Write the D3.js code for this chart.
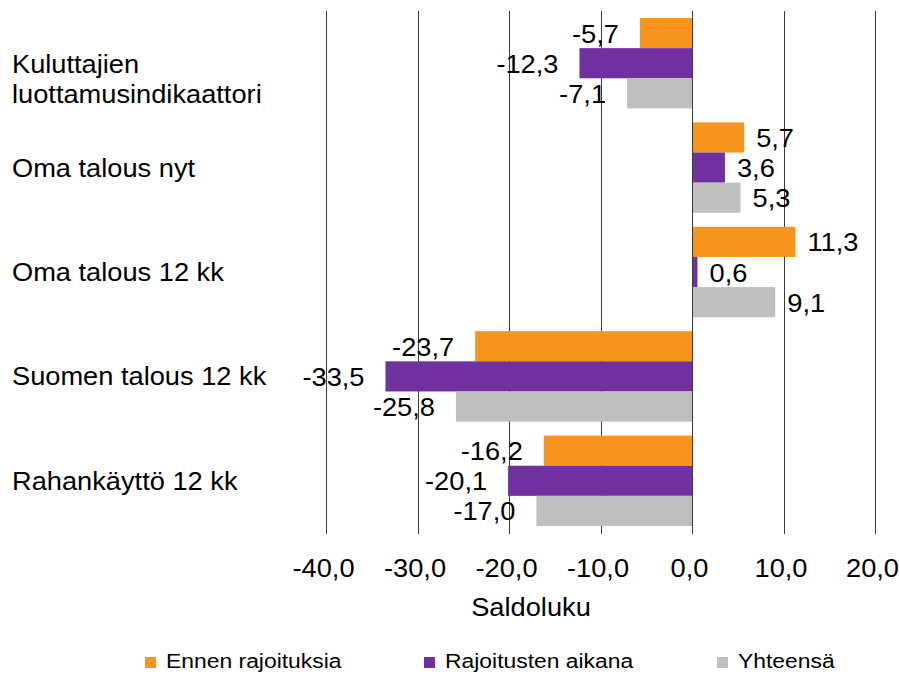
<!DOCTYPE html>
<html>
<head>
<meta charset="utf-8">
<script src="https://cdn.jsdelivr.net/npm/d3@7"></script>
<style>
  html, body { margin: 0; padding: 0; background: #fff; }
  svg { display: block; }
  text { font-family: "Liberation Sans", Arial, sans-serif; fill: #000; }
</style>
</head>
<body>
<svg id="chart" width="900" height="675"></svg>
<script>
// ---- data ----
const categories = [
  ["Kuluttajien", "luottamusindikaattori"],
  ["Oma talous nyt"],
  ["Oma talous 12 kk"],
  ["Suomen talous 12 kk"],
  ["Rahankäyttö 12 kk"]
];
const seriesNames = ["Ennen rajoituksia", "Rajoitusten aikana", "Yhteensä"];
const ennenRajoituksia   = [-5.7, 5.7, 11.3, -23.7, -16.2];
const rajoitustenAikana  = [-12.3, 3.6, 0.6, -33.5, -20.1];
const yhteensa           = [-7.1, 5.3, 9.1, -25.8, -17.0];
const seriesColors = ["#F7941D", "#7030A0", "#BFBFBF"];
const xTicks = [-40, -30, -20, -10, 0, 10, 20];
const xTitle = "Saldoluku";

const seriesValues = [ennenRajoituksia, rajoitustenAikana, yhteensa];

// ---- setup ----
const svg = d3.select("#chart");
const SX = 1.09; // horizontal text stretch of the original
const locale = d3.formatLocale({decimal: ",", thousands: " ", grouping: [3], currency: ["", "€"], minus: "-"});
const fmt = locale.format(".1f");

const x = d3.scaleLinear().domain([-40, 20]).range([326, 875]);
const catIdx = d3.range(categories.length);
const y = d3.scaleBand().domain(catIdx).range([11, 533]).paddingInner(0.134).paddingOuter(0.067);
const ySub = d3.scaleBand().domain(d3.range(seriesNames.length)).range([0, y.bandwidth()]).padding(0);

function stretchedText(sel) {
  return sel.attr("transform", d => `translate(${d.tx},${d.ty}) scale(${SX},1)`);
}

// gridlines
svg.append("g").selectAll("line").data(xTicks).join("line")
  .attr("x1", d => Math.round(x(d)) + 0.5).attr("x2", d => Math.round(x(d)) + 0.5)
  .attr("y1", 11).attr("y2", 534)
  .attr("stroke", "#3a3a3a").attr("stroke-width", 1);

// bars
const flat = [];
catIdx.forEach(ci => seriesValues.forEach((vals, si) => flat.push({ci, si, v: vals[ci]})));

svg.append("g").selectAll("rect").data(flat).join("rect")
  .attr("x", d => x(Math.min(0, d.v)))
  .attr("width", d => Math.abs(x(d.v) - x(0)))
  .attr("y", d => y(d.ci) + ySub(d.si))
  .attr("height", ySub.bandwidth())
  .attr("fill", d => seriesColors[d.si]);

// zero line on top
svg.append("line")
  .attr("x1", Math.round(x(0)) + 0.5).attr("x2", Math.round(x(0)) + 0.5)
  .attr("y1", 11).attr("y2", 534)
  .attr("stroke", "#3a3a3a").attr("stroke-width", 1);

// value labels
svg.append("g").selectAll("text").data(flat.map(d => ({
    ...d,
    tx: d.v >= 0 ? x(d.v) + 12 : x(d.v) - 21,
    ty: y(d.ci) + ySub(d.si) + ySub.bandwidth() / 2 + 9.5
  }))).join("text")
  .call(stretchedText)
  .attr("text-anchor", d => d.v >= 0 ? "start" : "end")
  .attr("font-size", 25)
  .text(d => fmt(d.v));

// category labels
const catG = svg.append("g");
catIdx.forEach(ci => {
  const lines = categories[ci];
  const c = y(ci) + y.bandwidth() / 2;
  lines.forEach((ln, li) => {
    const ty = lines.length === 1 ? c + 9 : c + 10 + li * 30;
    catG.append("text").datum({tx: 12, ty})
      .call(stretchedText)
      .attr("font-size", 25)
      .text(ln);
  });
});

// x tick labels
svg.append("g").selectAll("text").data(xTicks.map(t => ({t, tx: x(t) - 2.5, ty: 577}))).join("text")
  .call(stretchedText)
  .attr("text-anchor", "middle")
  .attr("font-size", 25)
  .text(d => fmt(d.t));

// x title
svg.append("text").datum({tx: 531, ty: 616})
  .call(stretchedText)
  .attr("text-anchor", "middle")
  .attr("font-size", 25)
  .text(xTitle);

// legend
const legendX = [145, 424, 717];
const lg = svg.append("g");
seriesNames.forEach((name, i) => {
  lg.append("rect").attr("x", legendX[i]).attr("y", 657).attr("width", 11).attr("height", 11)
    .attr("fill", seriesColors[i]);
  lg.append("text").datum({tx: legendX[i] + 21, ty: 668})
    .call(stretchedText)
    .attr("font-size", 21)
    .text(name);
});
</script>
</body>
</html>
